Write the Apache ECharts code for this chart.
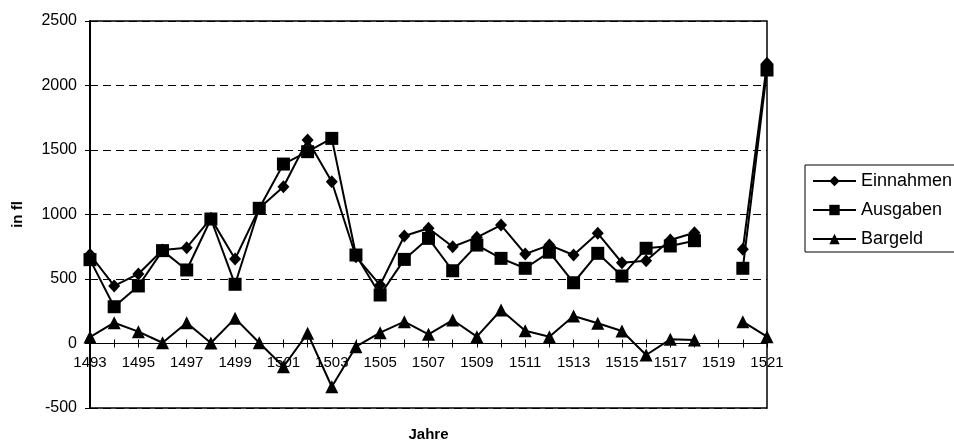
<!DOCTYPE html>
<html>
<head>
<meta charset="utf-8">
<script src="https://cdn.jsdelivr.net/npm/echarts@6/dist/echarts.min.js"></script>
<style>
  html, body { margin: 0; padding: 0; background: #fff; }
  #chart { width: 954px; height: 445px; }
</style>
</head>
<body>
<div id="chart"></div>
<script>
// Years of the account books (1519 has no entry)
const years = ['1493','1494','1495','1496','1497','1498','1499','1500','1501','1502',
  '1503','1504','1505','1506','1507','1508','1509','1510','1511','1512',
  '1513','1514','1515','1516','1517','1518','1519','1520','1521'];

// Income, in fl
const einnahmen = [690, 446, 539, 725, 743, 970, 655, 1048, 1215, 1577,
  1254, 673, 453, 833, 893, 750, 823, 918, 694, 763,
  686, 854, 626, 642, 802, 859, null, 730, 2172];

// Expenditure, in fl
const ausgaben = [650, 285, 446, 720, 570, 965, 459, 1048, 1391, 1487,
  1590, 686, 376, 652, 815, 564, 763, 660, 583, 708,
  471, 699, 523, 738, 756, 797, null, 583, 2120];

// Cash balance, in fl
const bargeld = [50, 161, 92, 6, 161, 4, 195, 6, -180, 79,
  -335, -25, 84, 169, 71, 182, 53, 260, 99, 53,
  213, 157, 97, -89, 32, 27, null, 169, 53];

// Value axis ticks
const yMin = -500, yMax = 2500, yStep = 500;

const FONT = '"Liberation Sans", Arial, sans-serif';

// Plot area geometry (px)
const PLOT_LEFT = 90, PLOT_RIGHT = 187, PLOT_TOP = 21, PLOT_BOTTOM = 37, H = 445;
const plotH = H - PLOT_TOP - PLOT_BOTTOM;
// y pixel of the zero line, measured from the bottom of the canvas
const zeroFromBottom = PLOT_BOTTOM + plotH * (0 - yMin) / (yMax - yMin);

function lineSeries(name, data, symbol, size) {
  return {
    name: name,
    type: 'line',
    xAxisIndex: 0,
    yAxisIndex: 0,
    data: data,
    symbol: symbol,
    symbolSize: size,
    showAllSymbol: true,
    connectNulls: false,
    clip: false,
    z: 5,
    lineStyle: { color: '#000', width: 2 },
    itemStyle: { color: '#000' },
    emphasis: { disabled: true },
    animation: false
  };
}

function hiddenValueAxis(gridIndex) {
  return {
    type: 'value', gridIndex: gridIndex, min: 0, max: 1,
    axisLine: { show: false }, axisTick: { show: false },
    axisLabel: { show: false }, splitLine: { show: false }
  };
}

const chart = echarts.init(document.getElementById('chart'), null, { renderer: 'canvas' });
chart.setOption({
  backgroundColor: '#fff',
  animation: false,
  grid: [{
    // main plot area
    left: PLOT_LEFT, right: PLOT_RIGHT, top: PLOT_TOP, bottom: PLOT_BOTTOM,
    outerBoundsMode: 'none', containLabel: false,
    show: true, borderColor: '#000', borderWidth: 1.5,
    backgroundColor: 'transparent'
  }, {
    // band ending on the zero line: year axis with labels and lower ticks
    left: PLOT_LEFT, right: PLOT_RIGHT, top: PLOT_TOP, bottom: zeroFromBottom,
    outerBoundsMode: 'none', containLabel: false, show: false
  }, {
    // band starting on the zero line: upper ticks
    left: PLOT_LEFT, right: PLOT_RIGHT, top: H - zeroFromBottom, bottom: PLOT_BOTTOM,
    outerBoundsMode: 'none', containLabel: false, show: false
  }],
  legend: {
    orient: 'vertical',
    left: 805, top: 165,
    padding: [7, 10, 4, 7],
    itemWidth: 43, itemHeight: 13, itemGap: 11,
    borderColor: '#000', borderWidth: 1,
    backgroundColor: '#fff',
    textStyle: { fontFamily: FONT, fontSize: 18, color: '#000' },
    data: ['Einnahmen', 'Ausgaben', 'Bargeld']
  },
  xAxis: [{
    type: 'category', gridIndex: 0,
    data: years,
    boundaryGap: false,
    name: 'Jahre',
    nameLocation: 'middle',
    nameGap: 19,
    nameTextStyle: { fontFamily: FONT, fontSize: 15, fontWeight: 'bold', color: '#000' },
    axisLine: { show: false, onZero: false },
    axisTick: { show: false },
    axisLabel: { show: false },
    splitLine: { show: false }
  }, {
    type: 'category', gridIndex: 1,
    data: years,
    boundaryGap: false,
    position: 'bottom',
    axisLine: { show: true, onZero: false, lineStyle: { color: '#000', width: 1 } },
    axisTick: { show: true, interval: 0, length: 4, lineStyle: { color: '#000' } },
    axisLabel: { interval: 1, margin: 12, fontFamily: FONT, fontSize: 15, color: '#000' },
    splitLine: { show: false }
  }, {
    type: 'category', gridIndex: 2,
    data: years,
    boundaryGap: false,
    position: 'top',
    axisLine: { show: false, onZero: false },
    axisTick: { show: true, interval: 0, length: 4, lineStyle: { color: '#000' } },
    axisLabel: { show: false },
    splitLine: { show: false }
  }],
  yAxis: [{
    type: 'value', gridIndex: 0,
    min: yMin, max: yMax, interval: yStep,
    name: 'in fl',
    nameLocation: 'middle',
    nameGap: 65,
    nameRotate: 90,
    nameTextStyle: { fontFamily: FONT, fontSize: 15, fontWeight: 'bold', color: '#000' },
    axisLine: { show: true, onZero: false, lineStyle: { color: '#000', width: 2 } },
    axisTick: { show: true, length: 5, lineStyle: { color: '#000' } },
    axisLabel: { margin: 13, fontFamily: FONT, fontSize: 16, color: '#000',
      formatter: function (v) { return String(v); } },
    splitLine: { show: true, lineStyle: { color: '#000', width: 1, type: [8, 5] } }
  }, hiddenValueAxis(1), hiddenValueAxis(2)],
  series: [
    lineSeries('Einnahmen', einnahmen, 'diamond', [12, 13]),
    lineSeries('Ausgaben', ausgaben, 'rect', 13),
    lineSeries('Bargeld', bargeld, 'triangle', 13)
  ]
});
</script>
</body>
</html>
